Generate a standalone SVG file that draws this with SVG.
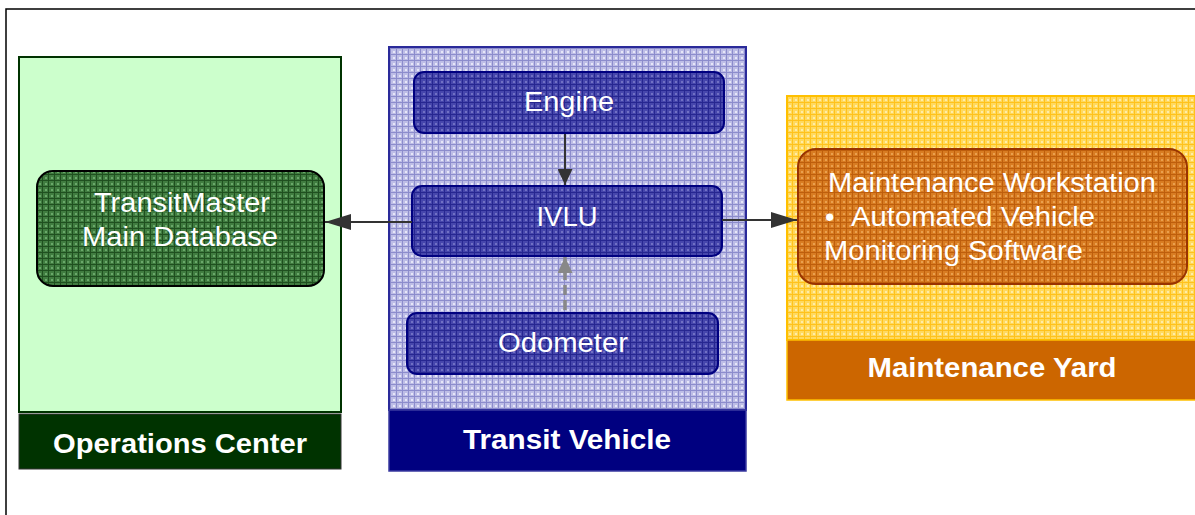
<svg xmlns="http://www.w3.org/2000/svg" width="1195" height="515" viewBox="0 0 1195 515">
<defs>
  <pattern id="pGreen" width="6" height="6" patternUnits="userSpaceOnUse">
    <rect width="6" height="6" fill="#407C40"/>
    <rect x="0" y="0" width="6" height="1" fill="#1F4F1F"/>
    <rect x="0" y="0" width="1" height="6" fill="#1F4F1F"/>
    <rect x="3" y="3" width="2" height="2" fill="#6AA86A"/>
  </pattern>
  <pattern id="pLav" width="6" height="6" patternUnits="userSpaceOnUse">
    <rect width="6" height="6" fill="#BDBDE6"/>
    <rect x="0" y="0" width="6" height="1" fill="#8C8CCC"/>
    <rect x="0" y="0" width="1" height="6" fill="#8C8CCC"/>
    <rect x="3" y="3" width="2" height="2" fill="#E6E6F8"/>
  </pattern>
  <pattern id="pBlue" width="6" height="6" patternUnits="userSpaceOnUse">
    <rect width="6" height="6" fill="#4646AC"/>
    <rect x="0" y="0" width="6" height="1" fill="#262690"/>
    <rect x="0" y="0" width="1" height="6" fill="#262690"/>
    <rect x="3" y="3" width="2" height="2" fill="#7070C4"/>
  </pattern>
  <pattern id="pYellow" width="6" height="6" patternUnits="userSpaceOnUse">
    <rect width="6" height="6" fill="#FFD95E"/>
    <rect x="0" y="0" width="6" height="1" fill="#FFC21C"/>
    <rect x="0" y="0" width="1" height="6" fill="#FFC21C"/>
    <rect x="3" y="3" width="2" height="2" fill="#FFECA8"/>
  </pattern>
  <pattern id="pOrange" width="6" height="6" patternUnits="userSpaceOnUse">
    <rect width="6" height="6" fill="#D87C22"/>
    <rect x="0" y="0" width="6" height="1" fill="#BE5E0C"/>
    <rect x="0" y="0" width="1" height="6" fill="#BE5E0C"/>
    <rect x="3" y="3" width="2" height="2" fill="#EAA04E"/>
  </pattern>
  <marker id="ahBig" viewBox="0 0 26 16" refX="26" refY="8" markerWidth="26" markerHeight="16" markerUnits="userSpaceOnUse" orient="auto">
    <path d="M0,0 L26,8 L0,16 Z" fill="#333333"/>
  </marker>
  <marker id="ahSmall" viewBox="0 0 16 15" refX="16" refY="7.5" markerWidth="16" markerHeight="15" markerUnits="userSpaceOnUse" orient="auto">
    <path d="M0,0 L16,7.5 L0,15 Z" fill="#333333"/>
  </marker>
  <marker id="ahGray" viewBox="0 0 16 15" refX="16" refY="7.5" markerWidth="16" markerHeight="15" markerUnits="userSpaceOnUse" orient="auto">
    <path d="M0,0 L16,7.5 L0,15 Z" fill="#888888"/>
  </marker>
</defs>
<style>
  .txt { font-family: "Liberation Sans", Arial, sans-serif; fill: #ffffff; }
  .node { font-size: 27px; }
  .band { font-size: 27px; font-weight: bold; }
  .conn { stroke: #333333; stroke-width: 2; fill: none; }
</style>

<rect x="6" y="9" width="1200" height="520" fill="#ffffff" stroke="#000000" stroke-width="1.5"/>

<g id="operations-center">
  <rect x="19" y="57" width="322" height="355" fill="#CCFFCC" stroke="#003300" stroke-width="2"/>
  <rect x="19" y="414" width="322" height="55" fill="#003300" stroke="#333333" stroke-width="1"/>
  <text class="txt band" x="180" y="453" text-anchor="middle" textLength="254" lengthAdjust="spacingAndGlyphs">Operations Center</text>
</g>

<g id="transitmaster">
  <rect x="37" y="171" width="287" height="115" rx="16" fill="url(#pGreen)" stroke="#000000" stroke-width="2"/>
  <text class="txt node" x="182" y="212" text-anchor="middle" textLength="176" lengthAdjust="spacingAndGlyphs">TransitMaster</text>
  <text class="txt node" x="180" y="246" text-anchor="middle" textLength="196" lengthAdjust="spacingAndGlyphs">Main Database</text>
</g>

<g id="transit-vehicle">
  <rect x="389" y="47" width="357" height="363" fill="url(#pLav)" stroke="#2A2A9A" stroke-width="2"/>
  <rect x="389" y="410" width="357" height="61" fill="#000080" stroke="#3A3AA0" stroke-width="1.5"/>
  <text class="txt band" x="567" y="449" text-anchor="middle" textLength="208" lengthAdjust="spacingAndGlyphs">Transit Vehicle</text>
</g>

<g id="engine">
  <rect x="414" y="72" width="310" height="61" rx="10" fill="url(#pBlue)" stroke="#000080" stroke-width="2"/>
  <text class="txt node" x="569" y="111" text-anchor="middle" textLength="90" lengthAdjust="spacingAndGlyphs">Engine</text>
</g>

<g id="ivlu">
  <rect x="412" y="186" width="310" height="70" rx="10" fill="url(#pBlue)" stroke="#000080" stroke-width="2"/>
  <text class="txt node" x="567" y="226" text-anchor="middle" textLength="61" lengthAdjust="spacingAndGlyphs">IVLU</text>
</g>

<g id="odometer">
  <rect x="407" y="313" width="311" height="61" rx="10" fill="url(#pBlue)" stroke="#000080" stroke-width="2"/>
  <text class="txt node" x="563" y="352" text-anchor="middle" textLength="130" lengthAdjust="spacingAndGlyphs">Odometer</text>
</g>

<g id="maintenance-yard">
  <rect x="787" y="96" width="420" height="244" fill="url(#pYellow)" stroke="#FFC000" stroke-width="2"/>
  <rect x="787" y="340" width="420" height="60" fill="#CC6600" stroke="#FFC000" stroke-width="1.5"/>
  <text class="txt band" x="992" y="377" text-anchor="middle" textLength="249" lengthAdjust="spacingAndGlyphs">Maintenance Yard</text>
</g>

<g id="maintenance-workstation">
  <rect x="798" y="149" width="389" height="135" rx="18" fill="url(#pOrange)" stroke="#993300" stroke-width="2"/>
  <text class="txt node" x="828" y="192" textLength="328" lengthAdjust="spacingAndGlyphs">Maintenance Workstation</text>
  <text class="txt node" x="825" y="226">•</text>
  <text class="txt node" x="851" y="226" textLength="244" lengthAdjust="spacingAndGlyphs">Automated Vehicle</text>
  <text class="txt node" x="824" y="260" textLength="259" lengthAdjust="spacingAndGlyphs">Monitoring Software</text>
</g>

<g id="connectors">
  <line class="conn" x1="412" y1="222" x2="325" y2="222" marker-end="url(#ahBig)"/>
  <line class="conn" x1="722" y1="220" x2="797" y2="220" marker-end="url(#ahBig)"/>
  <line class="conn" x1="565" y1="134" x2="565" y2="185" marker-end="url(#ahSmall)"/>
  <line x1="565" y1="310" x2="565" y2="257" stroke="#888888" stroke-width="3.5" stroke-dasharray="10,5" marker-end="url(#ahGray)"/>
</g>
</svg>
